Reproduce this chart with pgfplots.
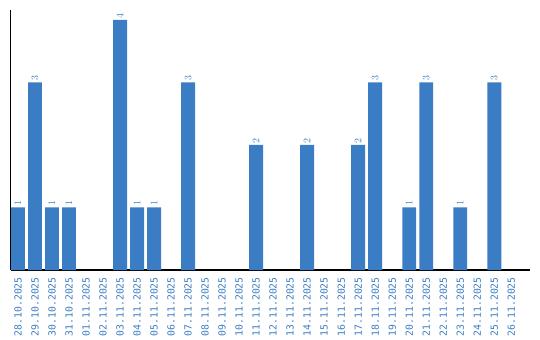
\documentclass[border=0pt]{standalone}
\usepackage{pgfplots}
\pgfplotsset{compat=1.18}
\usepackage{fontspec}
\setmainfont{DejaVu Sans Mono}
\definecolor{barblue}{HTML}{3B7DC4}
\begin{document}
\begin{tikzpicture}
\begin{axis}[
  at={(10.5bp,70bp)}, anchor=south west,
  scale only axis, width=519.5bp, height=260bp,
  xmin=-0.44, xmax=30.1, ymin=0, ymax=4.16,
  axis x line=bottom, axis y line=left,
  axis line style={-, line width=1.1bp, black},
  ytick=\empty,
  xtick={0,...,29},
  xticklabels={28.10.2025,29.10.2025,30.10.2025,31.10.2025,01.11.2025,02.11.2025,03.11.2025,04.11.2025,05.11.2025,06.11.2025,07.11.2025,08.11.2025,09.11.2025,10.11.2025,11.11.2025,12.11.2025,13.11.2025,14.11.2025,15.11.2025,16.11.2025,17.11.2025,18.11.2025,19.11.2025,20.11.2025,21.11.2025,22.11.2025,23.11.2025,24.11.2025,25.11.2025,26.11.2025},
  major tick length=0pt,
  xticklabel style={rotate=90, anchor=east, inner sep=0pt, xshift=-7bp, font=\fontsize{9.8bp}{11bp}\selectfont, text=barblue},
  nodes near coords,
  nodes near coords style={rotate=90, anchor=west, inner sep=1.5bp, font=\fontsize{9.5bp}{10bp}\selectfont, text=barblue},
  clip=false,
]
\addplot[ybar, bar width=0.82, fill=barblue, draw=none] coordinates {
 (0,1) (1,3) (2,1) (3,1) (6,4) (7,1) (8,1) (10,3) (14,2) (17,2) (20,2) (21,3) (23,1) (24,3) (26,1) (28,3)
};
\end{axis}
\pgfresetboundingbox
\path[use as bounding box] (0,0) rectangle (540bp,340bp);
\end{tikzpicture}
\end{document}
